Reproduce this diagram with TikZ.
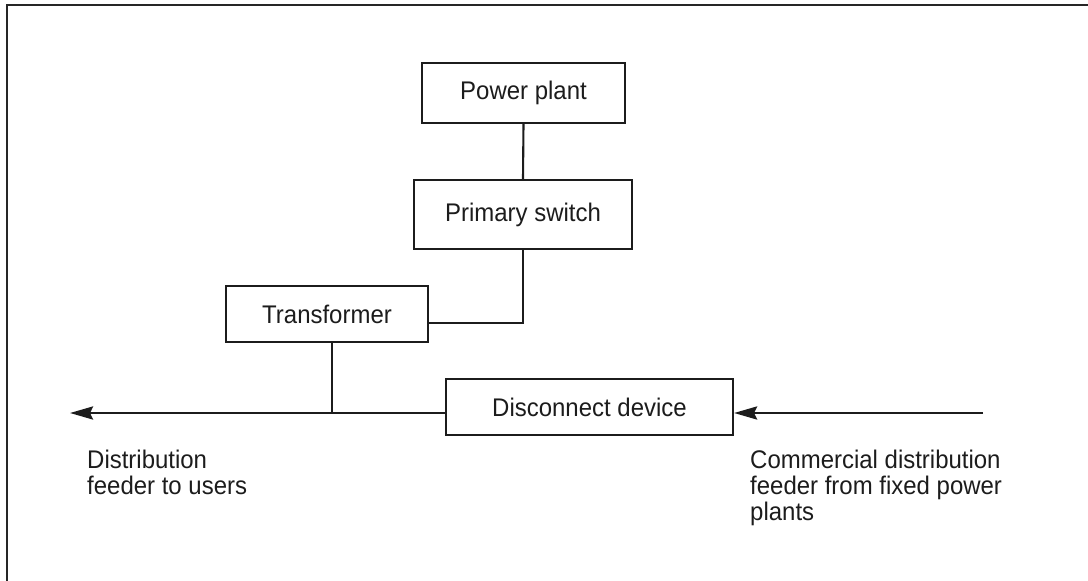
\documentclass[tikz,border=0pt]{standalone}
\usepackage{fontspec}
\setmainfont{Liberation Sans}[FakeStretch=0.94]
\usetikzlibrary{arrows.meta}
\definecolor{ink}{HTML}{1c1c1c}
\definecolor{framecol}{HTML}{262626}
\tikzset{
  box/.style={draw=ink, line width=2.1pt, minimum width=#1, inner sep=0pt, text=ink},
  conn/.style={draw=ink, line width=2.1pt},
  feeder/.style={draw=ink, line width=2.8pt},
  feedarrow/.style={-{Stealth[length=23pt,width=13pt,inset=3pt]}},
  lbl/.style={anchor=base west, align=left, inner sep=0pt, text=ink}
}
\begin{document}
\begin{tikzpicture}[x=1pt,y=-1pt, font=\fontsize{25.5pt}{26pt}\selectfont]
\useasboundingbox (0,0) rectangle (1088,581);
\draw[framecol, line width=2.5pt] (7,581) -- (7,5) -- (1088,5);

\node[box=203pt, minimum height=60pt] (pp) at (523.5,93) {Power plant};
\node[box=218pt, minimum height=69pt] (ps) at (523,214.5) {Primary switch};
\node[box=202pt, minimum height=56pt] (tr) at (327,314) {Transformer};
\node[box=287pt, minimum height=56pt] (dd) at (589.5,407) {Disconnect device};

\coordinate (leftend) at (70,413);
\coordinate (rightend) at (983,413);
\coordinate (junc) at (332,413);

\draw[conn] (pp.south) -- (ps.north);
\draw[conn] (ps.south) |- ([yshift=-9pt]tr.east);
\draw[conn] (tr.south -| junc) -- (junc);
\draw[feeder, feedarrow] ([yshift=-6pt]dd.west) -- (leftend);
\draw[feeder, feedarrow] (rightend) -- ([yshift=-6pt]dd.east);

\node[lbl] (l1) at (87,494.5) {Distribution\\feeder to users};
\node[lbl] (l2) at (750,520.5) {Commercial distribution\\feeder from fixed power\\plants};
\end{tikzpicture}
\end{document}
